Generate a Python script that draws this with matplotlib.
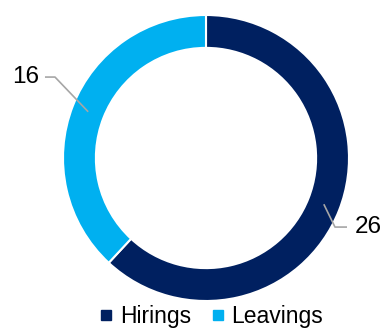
import numpy as np
import matplotlib.pyplot as plt
from matplotlib.lines import Line2D

plt.rcParams['font.family'] = ['Liberation Sans', 'DejaVu Sans']

labels = ['Hirings', 'Leavings']
values = [26, 16]
colors = ['#002060', '#00B0F0']

fig = plt.figure(figsize=(3.83, 3.30), dpi=100)
ax = fig.add_axes([0, 0, 1, 1])

wedges, _ = ax.pie(values, colors=colors, startangle=90, counterclock=False,
                   radius=1, wedgeprops=dict(width=0.23, edgecolor='white', linewidth=1.5))

# value labels with elbow leader lines
# (elbow x, elbow y, line end x, text x, alignment)
lead = [(0.902, -0.483, 0.986, 1.04, 'left'),
        (-1.056, 0.566, -1.126, -1.17, 'right')]
for w, v, (ex, ey, lx, tx, ha) in zip(wedges, values, lead):
    ang = np.deg2rad((w.theta1 + w.theta2) / 2)
    r = 0.885
    x0, y0 = r * np.cos(ang), r * np.sin(ang)
    ax.plot([x0, ex, lx], [y0, ey, ey], color='#A6A6A6', lw=1.2, solid_capstyle='butt')
    ax.text(tx, ey, str(v), ha=ha, va='center', fontsize=17.5, color='black')

ax.set_xlim(-206 / 143, 177 / 143)
ax.set_ylim(-172 / 143, 158 / 143)
ax.set_aspect('auto')
ax.axis('off')

handles = [Line2D([], [], marker='s', linestyle='none', markersize=6.5,
                  markerfacecolor=c, markeredgecolor=c) for c in colors]
fig.legend(handles, labels, loc='center', bbox_to_anchor=(0.553, 0.04), ncol=2,
           frameon=False, fontsize=16.5, handlelength=0.5, handletextpad=0.35,
           columnspacing=0.9, borderpad=0)

fig.savefig('out.png', dpi=100)
